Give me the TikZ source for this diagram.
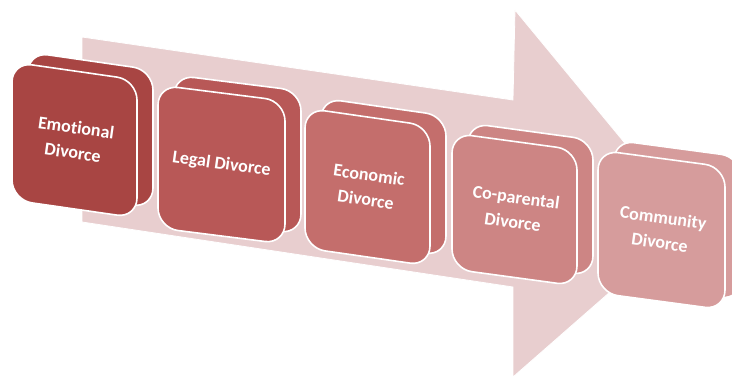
\documentclass[tikz,border=0pt]{standalone}
\usepackage{fontspec}
\setmainfont{Carlito}[Ligatures=NoCommon]
\definecolor{arrowfill}{RGB}{232,206,207}
\definecolor{cEmo}{RGB}{168,69,67}
\definecolor{cLeg}{RGB}{184,88,87}
\definecolor{cEco}{RGB}{196,110,108}
\definecolor{cCop}{RGB}{205,133,132}
\definecolor{cCom}{RGB}{214,156,156}
\tikzset{
  facestyle/.style={draw=white, line width=1.6pt, rounded corners=20pt},
  labeltext/.style={text=white, font=\bfseries\fontsize{18}{25}\selectfont, align=center, rotate=-8, inner sep=0pt},
  bigarrow/.style={fill=arrowfill, draw=white, line width=0.8pt}
}
\newcommand\stagebox[8]{%
  \begin{scope}[shift={(16,-10)}]
    \path[facestyle, fill=#7] (#2,#3) -- ++(#4,#5) -- ++(0,#6) -- ++(-#4,-#5) -- cycle;
  \end{scope}
  \path[facestyle, fill=#7] (#2,#3) -- ++(#4,#5) -- ++(0,#6) -- ++(-#4,-#5) -- cycle;
  \node[labeltext] (#1) at ({#2+#4/2},{#3+#5/2+#6/2}) {#8};
}
\begin{document}
\begin{tikzpicture}[x=1pt,y=-1pt]
\useasboundingbox (0,0) rectangle (732,377);
\path[bigarrow] (82,37) coordinate (a1) -- (513,100) coordinate (a2) -- (515,10) coordinate (a3)
  -- (690,222) coordinate (a4) -- (513,377) coordinate (a5) -- (513,287) coordinate (a6)
  -- (82,222) coordinate (a7) -- cycle;
\stagebox{emo}{12}{62}{125}{18}{138}{cEmo}{Emotional\\Divorce}
\stagebox{leg}{158}{85}{127}{16}{143}{cLeg}{Legal Divorce}
\stagebox{eco}{305}{108}{125}{18}{140}{cEco}{Economic\\Divorce}
\stagebox{cop}{452}{133}{125}{17}{136}{cCop}{Co-parental\\Divorce}
\stagebox{com}{598}{150}{127}{17}{143}{cCom}{Community\\Divorce}
\end{tikzpicture}
\end{document}
